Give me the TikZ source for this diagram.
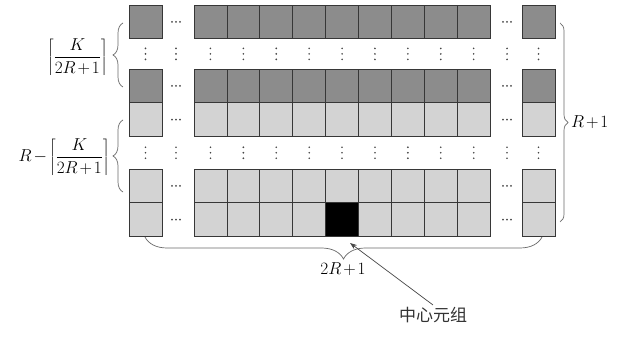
\documentclass[tikz,border=0pt]{standalone}
\usepackage{fontspec}
\newfontfamily\cjk{Noto Sans CJK SC}
\usetikzlibrary{decorations.pathreplacing,arrows.meta}
\definecolor{darkc}{RGB}{140,140,140}
\definecolor{lightc}{RGB}{211,211,211}
\definecolor{edgec}{RGB}{55,55,55}
\definecolor{bracec}{RGB}{105,105,105}
\definecolor{dotc}{RGB}{70,70,70}
\newcommand\tightms{\medmuskip=2mu\relax}
\begin{document}
\begin{tikzpicture}[x=1pt,y=-1pt,
  cell/.style={draw=edgec,line width=0.8pt,minimum width=32.9pt,minimum height=33.75pt,inner sep=0pt,outer sep=0pt},
  wcell/.style={cell,minimum width=33pt},
  brc/.style={draw=bracec,line width=0.7pt,decorate,decoration={brace,amplitude=#1}},
  lab/.style={font=\fontsize{16}{19}\selectfont,inner sep=2pt},
  arr/.style={draw=dotc,line width=0.7pt,-{Stealth[length=7pt,width=5pt]}}]
\useasboundingbox (0,0) rectangle (618,344);
\fill[white] (0,0) rectangle (618,344);
% grid rows
\foreach \ry/\rf [count=\r] in {5/darkc,69/darkc,102.75/lightc,169/lightc,202.75/lightc} {
  \node[wcell,fill=\rf] (a\r) at (145.5,\ry+16.875) {};
  \foreach \i in {0,...,8}
    \node[cell,fill=\rf] (m\r-\i) at ({194+32.9*\i+16.45},\ry+16.875) {};
  \node[wcell,fill=\rf] (z\r) at (538.5,\ry+16.875) {};
  \foreach \dx in {-4,0,4} {
    \fill[dotc] (176+\dx,\ry+16.875) circle (0.9pt);
    \fill[dotc] (507+\dx,\ry+16.875) circle (0.9pt);
  }
}
\node[cell,fill=black] (ctr) at (m5-4) {};
% vertical dots
\foreach \yy in {53.9,152.75} {
  \foreach \xx in {145.5,176,210.45,243.35,276.25,309.15,342.05,374.95,407.85,440.75,473.65,507,538.5} {
    \foreach \dy in {-5.5,0,5.5}
      \fill[dotc] (\xx,\yy+\dy) circle (0.9pt);
  }
}
% braces
\draw[brc=10] (123,87) -- (123,23);
\draw[brc=10] (123,192) -- (123,120);
\draw[brc=8] (560,23) -- (560,222);
\draw[brc=22] (542,237) -- (145,237);
% labels
\node[lab,anchor=east] (l1) at (110,57) {$\tightms\left\lceil\displaystyle\frac{K}{2R+1}\right\rceil$};
\node[lab,anchor=east] (l2) at (112,157) {$R-\tightms\left\lceil\displaystyle\frac{K}{2R+1}\right\rceil$};
\node[lab,anchor=west] (l3) at (569,122) {$\tightms R+1$};
\node[lab,font=\fontsize{17.5}{20}\selectfont,anchor=north] (l4) at (343,260) {$\tightms 2R+1$};
\node[font=\cjk\fontsize{17}{20}\selectfont,text=black!80,inner sep=2pt] (ct) at (433,315) {中心元组};
\coordinate (tip) at (350,243);
\draw[arr] (ct.north) -- (tip);
\end{tikzpicture}
\end{document}
